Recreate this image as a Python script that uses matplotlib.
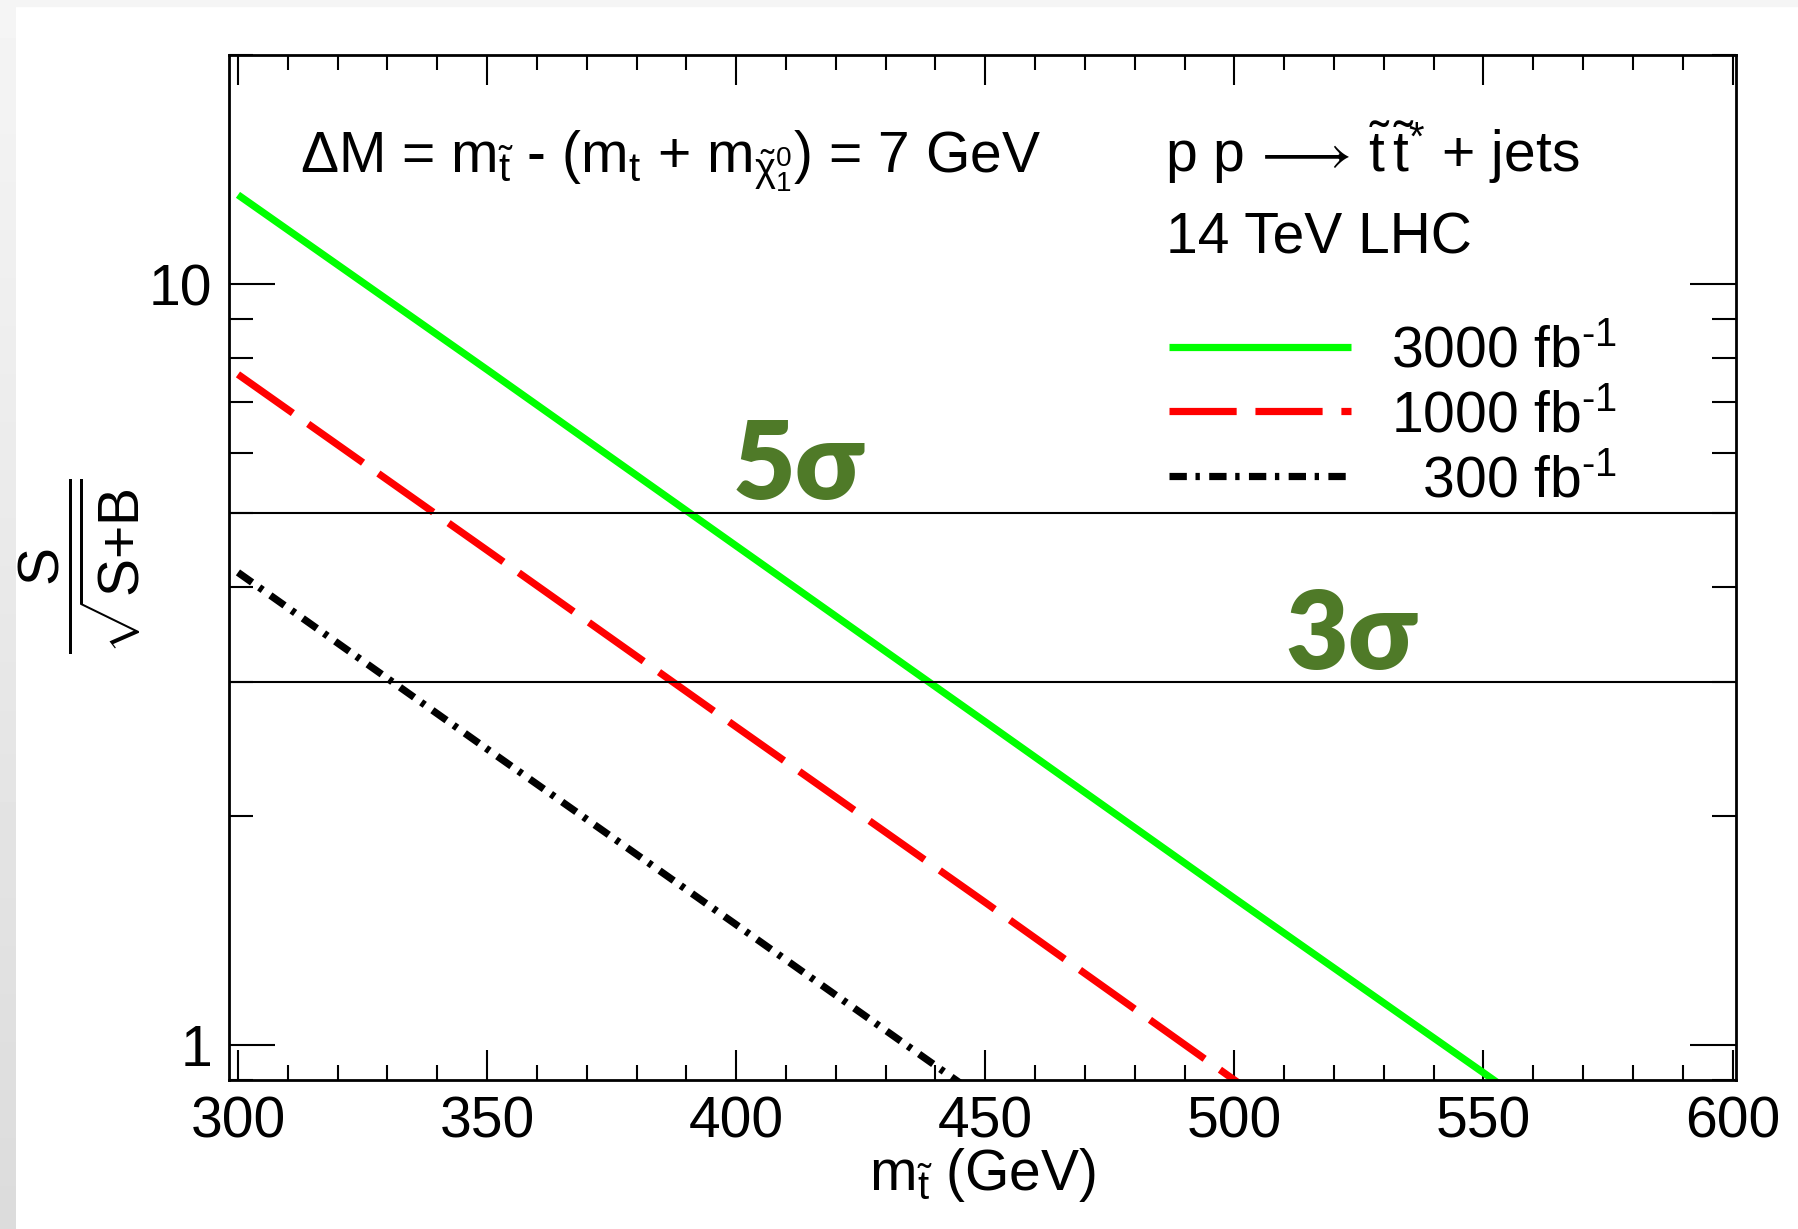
import numpy as np
import matplotlib
matplotlib.use('Agg')
import matplotlib.pyplot as plt
from matplotlib.patches import Rectangle
from matplotlib.ticker import LogLocator, MultipleLocator, NullFormatter, FuncFormatter

plt.rcParams['font.family'] = ['Liberation Sans', 'DejaVu Sans']
plt.rcParams['mathtext.fontset'] = 'custom'
plt.rcParams['mathtext.rm'] = 'Liberation Sans'
plt.rcParams['mathtext.it'] = 'Liberation Sans'
plt.rcParams['mathtext.bf'] = 'Liberation Sans:bold'
plt.rcParams['mathtext.default'] = 'regular'

# stop mass (GeV) vs significance S/sqrt(S+B) for three luminosities
stop_mass = [300, 350, 400, 450, 500, 550, 600]
signif_3000 = [13.1, 7.72, 4.53, 2.66, 1.56, 0.92, 0.54]
signif_1000 = [7.61, 4.47, 2.62, 1.54, 0.90, 0.53, 0.31]
signif_300 = [4.18, 2.45, 1.44, 0.845, 0.495, 0.29, 0.17]
lumi_labels = [r'3000 fb$^{\text{-1}}$', r'1000 fb$^{\text{-1}}$',
               r'  300 fb$^{\text{-1}}$']

# discovery / evidence thresholds
sigma_levels = [5, 3]
sigma_labels = ['5σ', '3σ']
sigma_label_pos = [(399.2, 5.22), (510.2, 3.12)]

FS = 41

fig = plt.figure(figsize=(17.99, 12.29), dpi=100)

# grey page edge on the left and top
strip = fig.add_axes([0, 0, 16 / 1799, 1])
strip.imshow(np.linspace(0.96, 0.86, 256)[:, None], cmap='gray', vmin=0, vmax=1,
             aspect='auto')
strip.axis('off')
fig.add_artist(Rectangle((0, 1 - 6 / 1229), 1, 6 / 1229, color='#f5f5f5',
                         transform=fig.transFigure, zorder=0))

ax = fig.add_axes([229 / 1799, 149 / 1229, 1507 / 1799, 1025 / 1229])
ax.set_yscale('log')

ax.plot(stop_mass, signif_3000, color='#00ff00', lw=5.2, solid_capstyle='butt',
        label=lumi_labels[0])
ax.plot(stop_mass, signif_1000, color='#ff0000', lw=5.2, dashes=(9.3, 2.6),
        dash_capstyle='butt', label=lumi_labels[1])
ax.plot(stop_mass, signif_300, color='black', lw=5.2, dashes=(2.4, 1.2, 0.6, 1.3),
        dash_capstyle='butt', label=lumi_labels[2])

for lev in sigma_levels:
    ax.axhline(lev, color='black', lw=1.5, zorder=3)
for txt, (xs, ys) in zip(sigma_labels, sigma_label_pos):
    ax.text(xs, ys, txt, color='#4f7a28', fontsize=78, fontweight='heavy',
            family=['Lato', 'DejaVu Sans'], va='baseline', ha='left')

ax.set_xlim(298.2, 600.7)
ax.set_ylim(0.9, 20.0)

ax.xaxis.set_major_locator(MultipleLocator(50))
ax.xaxis.set_minor_locator(MultipleLocator(10))
ax.yaxis.set_major_locator(LogLocator(base=10, numticks=10))
ax.yaxis.set_minor_locator(LogLocator(base=10, subs=np.arange(2, 10), numticks=10))
ax.yaxis.set_major_formatter(FuncFormatter(lambda v, p: '%g' % v))
ax.yaxis.set_minor_formatter(NullFormatter())

ax.tick_params(which='both', direction='in', top=True, right=True, width=1.5,
               labelsize=FS)
ax.tick_params(axis='x', which='major', length=21.6, pad=11)
ax.tick_params(axis='x', which='minor', length=10.8)
ax.tick_params(axis='y', which='major', length=33, pad=12)
ax.tick_params(axis='y', which='minor', length=17)
for sp in ax.spines.values():
    sp.set_linewidth(2)

ax.set_xlabel(r'm$_{\tilde{t}}$ (GeV)', fontsize=FS, labelpad=-2)
fig.text(80 / 1799, 1 - 566 / 1229, r'$\dfrac{S}{\sqrt{S{+}B}}$', rotation=90,
         ha='center', va='center', fontsize=FS)

ax.text(0.0471, 0.8849,
        r'$\Delta$M = m$_{\tilde{t}}$ - (m$_{t}$ + m$_{\tilde{\chi}^{0}_{1}}$) = 7 GeV',
        transform=ax.transAxes, fontsize=FS, va='baseline', ha='left')
ax.text(0.6211, 0.8859, r'p p$\,\longrightarrow\,\tilde{t}\,\tilde{t}^{*}$ + jets',
        transform=ax.transAxes, fontsize=FS, va='baseline', ha='left')
ax.text(0.6218, 0.8068, '14 TeV LHC', transform=ax.transAxes, fontsize=FS,
        va='baseline', ha='left')

ax.legend(loc='upper left', bbox_to_anchor=(0.6238, 0.737), frameon=False,
          fontsize=FS, handlelength=3.2, handletextpad=0.69, labelspacing=0.19,
          borderpad=0, borderaxespad=0)

fig.savefig('out.png', dpi=100)
